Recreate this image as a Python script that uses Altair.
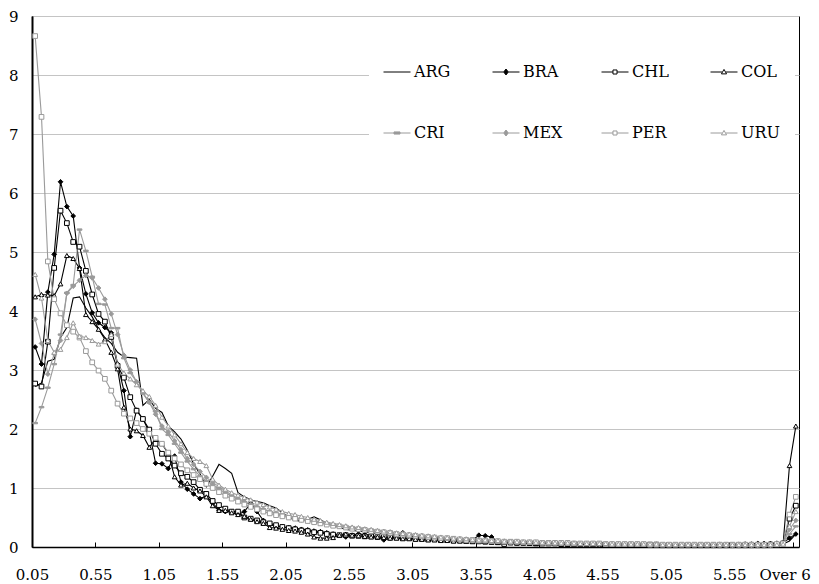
import altair as alt
import pandas as pd

# ---------------- data ----------------
categories = [f"{0.05 * (k + 1):.2f}" for k in range(120)] + ["Over 6"]
countries = ["ARG", "BRA", "CHL", "COL", "CRI", "MEX", "PER", "URU"]

ARG = [2.72, 2.78, 3.15, 3.18, 3.55, 3.72, 4.22, 4.24, 4.05, 3.9,
       3.7, 3.55, 3.45, 3.3, 3.22, 3.21, 3.2, 2.4, 2.5, 2.35,
       2.28, 2.05, 1.95, 1.83, 1.64, 1.41, 1.24, 1.02, 1.2, 1.4,
       1.33, 1.25, 0.92, 0.85, 0.8, 0.77, 0.75, 0.7, 0.66, 0.58,
       0.5,
       0.46, 0.43, 0.47, 0.51, 0.46, 0.4, 0.36, 0.33, 0.3, 0.28,
       0.27, 0.26, 0.24, 0.23, 0.22, 0.21, 0.2, 0.19, 0.18, 0.17,
       0.16, 0.16, 0.15, 0.14, 0.13, 0.13, 0.12, 0.11, 0.11, 0.1,
       0.1, 0.09, 0.09, 0.09, 0.08, 0.08, 0.08, 0.07, 0.07, 0.07,
       0.07, 0.06, 0.06, 0.06, 0.06, 0.06, 0.05, 0.05, 0.05, 0.05,
       0.05, 0.05, 0.05, 0.04, 0.04, 0.04, 0.04, 0.04, 0.04, 0.04,
       0.04, 0.04, 0.03, 0.03, 0.04, 0.03, 0.03, 0.03, 0.03, 0.03,
       0.03, 0.03, 0.03, 0.03, 0.03, 0.03, 0.04, 0.05,
       0.1, 0.22]

BRA = [3.39, 3.1, 4.32, 4.96, 6.19, 5.77, 5.61, 4.73, 4.29, 3.97,
       3.8, 3.72, 3.63, 3.1, 2.65, 1.87, 2.32, 2.17, 1.95, 1.42,
       1.41, 1.33, 1.54, 1.1, 0.98, 0.9, 0.82, 0.86, 0.75, 0.62,
       0.6, 0.6, 0.55, 0.6, 0.74, 0.6, 0.45, 0.38, 0.35, 0.34,
       0.33,
       0.32, 0.3, 0.29, 0.27, 0.26, 0.24, 0.22, 0.2, 0.17, 0.2,
       0.22, 0.21, 0.2, 0.16, 0.12, 0.15, 0.18, 0.24, 0.19, 0.17,
       0.16, 0.15, 0.14, 0.13, 0.12, 0.12, 0.11, 0.11, 0.12, 0.2,
       0.19, 0.17, 0.09, 0.08, 0.08, 0.07, 0.07, 0.07, 0.06, 0.06,
       0.06, 0.06, 0.06, 0.05, 0.06, 0.05, 0.05, 0.05, 0.05, 0.05,
       0.05, 0.05, 0.04, 0.04, 0.04, 0.04, 0.04, 0.04, 0.04, 0.04,
       0.04, 0.04, 0.04, 0.03, 0.04, 0.04, 0.04, 0.04, 0.04, 0.04,
       0.04, 0.05, 0.05, 0.06, 0.06, 0.06, 0.06, 0.07,
       0.15, 0.22]

CHL = [2.77, 2.72, 3.48, 4.73, 5.7, 5.49, 5.17, 5.09, 4.68, 4.28,
       3.95, 3.82, 3.56, 3.07, 2.87, 2.54, 2.31, 2.17, 1.99, 1.75,
       1.58, 1.5, 1.38, 1.25, 1.19, 1.1, 0.97, 0.9, 0.78, 0.71,
       0.65, 0.6, 0.6, 0.5, 0.48, 0.45, 0.42, 0.4, 0.37, 0.34,
       0.32,
       0.3, 0.28, 0.27, 0.25, 0.24, 0.22, 0.21, 0.2, 0.2, 0.19,
       0.19, 0.18, 0.18, 0.17, 0.17, 0.16, 0.16, 0.15, 0.15, 0.14,
       0.14, 0.13, 0.13, 0.12, 0.12, 0.11, 0.11, 0.1, 0.1, 0.1,
       0.09, 0.09, 0.08, 0.05, 0.08, 0.07, 0.07, 0.07, 0.06, 0.06,
       0.06, 0.06, 0.05, 0.05, 0.05, 0.05, 0.05, 0.05, 0.05, 0.04,
       0.04, 0.04, 0.04, 0.04, 0.04, 0.04, 0.04, 0.04, 0.03, 0.03,
       0.03, 0.03, 0.03, 0.03, 0.03, 0.03, 0.03, 0.03, 0.03, 0.03,
       0.03, 0.03, 0.03, 0.03, 0.03, 0.04, 0.04, 0.06,
       0.48, 0.7]

COL = [4.24, 4.28, 4.27, 4.26, 4.46, 4.94, 4.89, 4.72, 3.94, 3.82,
       3.69, 3.52, 3.3, 3.02, 2.37, 2.0, 1.97, 1.89, 1.69, 1.83,
       1.75, 1.58, 1.19, 1.05, 1.08, 1.0, 0.95, 0.85, 0.7, 0.62,
       0.62, 0.58, 0.55, 0.52, 0.47, 0.43, 0.4, 0.33, 0.32, 0.3,
       0.28,
       0.27, 0.25, 0.22, 0.17, 0.15, 0.15, 0.16, 0.2, 0.22, 0.2,
       0.19, 0.18, 0.17, 0.17, 0.16, 0.15, 0.15, 0.14, 0.14, 0.13,
       0.13, 0.12, 0.12, 0.11, 0.11, 0.1, 0.1, 0.1, 0.09, 0.09,
       0.09, 0.08, 0.08, 0.08, 0.07, 0.07, 0.07, 0.06, 0.06, 0.06,
       0.06, 0.06, 0.05, 0.05, 0.05, 0.05, 0.05, 0.05, 0.05, 0.05,
       0.05, 0.04, 0.04, 0.04, 0.04, 0.04, 0.04, 0.04, 0.04, 0.04,
       0.04, 0.04, 0.04, 0.04, 0.04, 0.04, 0.04, 0.04, 0.04, 0.04,
       0.05, 0.05, 0.05, 0.06, 0.06, 0.06, 0.07, 0.06,
       1.38, 2.05]

CRI = [2.1, 2.37, 2.7, 3.1, 3.6, 4.31, 4.44, 5.38, 5.02, 4.58,
       4.12, 4.11, 3.71, 3.71, 3.2, 2.95, 2.8, 2.6, 2.45, 2.3,
       2.0, 1.9, 1.75, 1.6, 1.45, 1.32, 1.2, 1.12, 1.05, 0.98,
       0.92, 0.86, 0.8, 0.76, 0.72, 0.68, 0.64, 0.6, 0.57, 0.55,
       0.52,
       0.5, 0.48, 0.46, 0.44, 0.42, 0.4, 0.38, 0.36, 0.35, 0.33,
       0.32, 0.3, 0.29, 0.28, 0.26, 0.25, 0.24, 0.22, 0.21, 0.2,
       0.19, 0.18, 0.17, 0.16, 0.15, 0.14, 0.13, 0.13, 0.12, 0.11,
       0.11, 0.1, 0.1, 0.09, 0.09, 0.08, 0.08, 0.08, 0.07, 0.07,
       0.07, 0.07, 0.06, 0.06, 0.06, 0.06, 0.06, 0.05, 0.05, 0.05,
       0.05, 0.05, 0.05, 0.05, 0.04, 0.04, 0.04, 0.04, 0.04, 0.04,
       0.04, 0.04, 0.04, 0.04, 0.03, 0.03, 0.03, 0.03, 0.03, 0.03,
       0.03, 0.03, 0.03, 0.03, 0.03, 0.03, 0.03, 0.04,
       0.22, 0.35]

MEX = [3.86, 3.45, 2.93, 3.27, 3.5, 4.3, 4.42, 4.52, 4.6, 4.56,
       4.39, 4.2, 3.95, 3.6, 3.25, 3.0, 2.8, 2.62, 2.45, 2.25,
       2.05, 1.95, 1.8, 1.65, 1.5, 1.4, 1.28, 1.18, 1.1, 1.02,
       0.95, 0.88, 0.82, 0.77, 0.72, 0.68, 0.64, 0.6, 0.57, 0.54,
       0.51,
       0.49, 0.47, 0.45, 0.43, 0.41, 0.39, 0.37, 0.35, 0.34, 0.32,
       0.31, 0.3, 0.28, 0.27, 0.26, 0.25, 0.23, 0.22, 0.21, 0.2,
       0.19, 0.18, 0.17, 0.16, 0.15, 0.14, 0.14, 0.13, 0.12, 0.12,
       0.11, 0.11, 0.1, 0.1, 0.09, 0.09, 0.08, 0.08, 0.08, 0.07,
       0.07, 0.07, 0.07, 0.06, 0.06, 0.06, 0.06, 0.06, 0.05, 0.05,
       0.05, 0.05, 0.05, 0.05, 0.05, 0.04, 0.04, 0.04, 0.04, 0.04,
       0.04, 0.04, 0.04, 0.04, 0.04, 0.04, 0.03, 0.03, 0.03, 0.03,
       0.03, 0.03, 0.03, 0.03, 0.03, 0.03, 0.04, 0.05,
       0.3, 0.45]

PER = [8.66, 7.29, 4.84, 4.2, 3.96, 3.76, 3.65, 3.55, 3.32, 3.13,
       2.99, 2.85, 2.65, 2.43, 2.26, 2.18, 2.1, 2.0, 1.92, 1.85,
       1.75, 1.6, 1.5, 1.4, 1.3, 1.22, 1.15, 1.07, 1.0, 0.93,
       0.87, 0.82, 0.77, 0.72, 0.68, 0.64, 0.6, 0.57, 0.54, 0.52,
       0.5,
       0.48, 0.46, 0.44, 0.42, 0.4, 0.38, 0.36, 0.35, 0.33, 0.31,
       0.3, 0.29, 0.27, 0.26, 0.25, 0.24, 0.22, 0.21, 0.2, 0.19,
       0.18, 0.17, 0.16, 0.15, 0.15, 0.14, 0.13, 0.12, 0.12, 0.11,
       0.11, 0.1, 0.1, 0.09, 0.09, 0.09, 0.08, 0.08, 0.08, 0.07,
       0.07, 0.07, 0.07, 0.07, 0.06, 0.06, 0.06, 0.06, 0.06, 0.05,
       0.05, 0.05, 0.05, 0.05, 0.05, 0.05, 0.04, 0.04, 0.04, 0.04,
       0.04, 0.04, 0.04, 0.04, 0.04, 0.04, 0.04, 0.04, 0.04, 0.04,
       0.04, 0.04, 0.04, 0.04, 0.04, 0.04, 0.05, 0.06,
       0.55, 0.85]

URU = [4.62, 4.22, 3.5, 3.3, 3.35, 3.55, 3.8, 3.57, 3.55, 3.5,
       3.44, 3.48, 3.6, 3.1, 2.95, 2.85, 2.75, 2.65, 2.55, 2.4,
       2.2, 2.05, 1.9, 1.75, 1.6, 1.5, 1.45, 1.38, 1.15, 1.05,
       0.98, 0.92, 0.88, 0.84, 0.8, 0.76, 0.72, 0.68, 0.64, 0.6,
       0.57,
       0.55, 0.52, 0.5, 0.47, 0.45, 0.42, 0.4, 0.38, 0.36, 0.34,
       0.33, 0.31, 0.3, 0.28, 0.27, 0.26, 0.24, 0.23, 0.22, 0.21,
       0.2, 0.19, 0.18, 0.17, 0.16, 0.15, 0.14, 0.14, 0.13, 0.12,
       0.12, 0.11, 0.11, 0.1, 0.1, 0.09, 0.09, 0.09, 0.08, 0.08,
       0.08, 0.07, 0.07, 0.07, 0.07, 0.06, 0.06, 0.06, 0.06, 0.06,
       0.05, 0.05, 0.05, 0.05, 0.05, 0.05, 0.05, 0.05, 0.04, 0.04,
       0.04, 0.04, 0.04, 0.04, 0.04, 0.04, 0.04, 0.04, 0.04, 0.04,
       0.04, 0.04, 0.04, 0.04, 0.04, 0.04, 0.04, 0.05,
       0.35, 0.6]

series = {"ARG": ARG, "BRA": BRA, "CHL": CHL, "COL": COL,
          "CRI": CRI, "MEX": MEX, "PER": PER, "URU": URU}
for name, vals in series.items():
    assert len(vals) == len(categories), (name, len(vals))

rows = []
for c in countries:
    for i, v in enumerate(series[c]):
        rows.append({"country": c, "cat": categories[i], "pos": i + 0.5, "value": v})
df = pd.DataFrame(rows)

# ---------------- styles ----------------
BLACK = "#000000"
GRAY = "#9a9a9a"
WHITE = "#ffffff"
stroke_range = [BLACK, BLACK, BLACK, BLACK, GRAY, GRAY, GRAY, GRAY]
fill_range = [WHITE, BLACK, WHITE, WHITE, GRAY, GRAY, WHITE, WHITE]

DASH = "M-1,-0.3L1,-0.3L1,0.3L-1,0.3Z"
marker_shapes = ["diamond", "square", "triangle-up", DASH,
                 "diamond", "square", "triangle-up"]

LINE_ONLY = "M-1,0L1,0"
LEG_DIAMOND = "M-1,0L-0.17,0M0.17,0L1,0M0,-0.22L0.17,0L0,0.22L-0.17,0Z"
LEG_SQUARE = "M-1,0L-0.15,0M0.15,0L1,0M-0.15,-0.15L0.15,-0.15L0.15,0.15L-0.15,0.15Z"
LEG_TRI = "M-1,0L-0.15,0M0.15,0L1,0M0,-0.19L0.19,0.14L-0.19,0.14Z"
LEG_DASH = "M-1,0L-0.22,0M0.22,0L1,0M-0.22,-0.08L0.22,-0.08L0.22,0.08L-0.22,0.08Z"
legend_shapes = [LINE_ONLY, LEG_DIAMOND, LEG_SQUARE, LEG_TRI,
                 LEG_DASH, LEG_DIAMOND, LEG_SQUARE, LEG_TRI]

tick_values = list(range(0, 121, 10))
label_array = "[" + ",".join("'" + categories[v] + "'" for v in tick_values) + "]"
label_expr = label_array + "[round(datum.value / 10)]"

FONT = "DejaVu Serif"
AXIS_FS = 15
W, H = 767, 531

xscale = alt.Scale(domain=[0, 121], nice=False, zero=False)
yscale = alt.Scale(domain=[0, 9], nice=False, zero=True)

y_axis = alt.Axis(values=list(range(10)), ticks=False, grid=True,
                  gridColor="#c4c4c4", gridWidth=1, title=None,
                  labelPadding=14, labelFontSize=AXIS_FS, labelFont=FONT,
                  labelColor=BLACK, domainColor=BLACK, domainWidth=2)

lines = alt.Chart(df).mark_line(strokeWidth=1.1).encode(
    x=alt.X("pos:Q", scale=xscale,
            axis=alt.Axis(values=tick_values, labelExpr=label_expr, ticks=False,
                          grid=False, title=None, labelPadding=20,
                          labelFontSize=AXIS_FS, labelFont=FONT, labelColor=BLACK,
                          labelFlush=False, labelOverlap=False,
                          labelOffset={"condition": {"test": "datum.value == 120",
                                                     "value": -8},
                                       "value": 0},
                          domainColor=BLACK, domainWidth=1.5)),
    y=alt.Y("value:Q", scale=yscale, axis=y_axis),
    stroke=alt.Stroke("country:N",
                      scale=alt.Scale(domain=countries, range=stroke_range),
                      legend=None),
    detail="country:N",
    order="pos:Q",
)

points = alt.Chart(df).transform_filter(
    "datum.country != 'ARG'"
).mark_point(filled=True, opacity=1, size=22, strokeWidth=1).encode(
    x=alt.X("pos:Q", scale=xscale,
            axis=alt.Axis(orient="bottom", offset=-5, values=tick_values,
                          labels=False, domain=False, ticks=True, tickSize=5,
                          tickColor=BLACK, tickWidth=1, grid=False, title=None)),
    y=alt.Y("value:Q", scale=yscale, axis=y_axis),
    shape=alt.Shape("country:N",
                    scale=alt.Scale(domain=countries[1:], range=marker_shapes),
                    legend=None),
    fill=alt.Fill("country:N",
                  scale=alt.Scale(domain=countries[1:], range=fill_range[1:]),
                  legend=None),
    stroke=alt.Stroke("country:N",
                      scale=alt.Scale(domain=countries[1:], range=stroke_range[1:]),
                      legend=None),
)

leg = alt.Legend(title=None, orient="none", legendX=337, legendY=28,
                 direction="horizontal", columns=4, fillColor=WHITE,
                 padding=14, labelFont=FONT, labelFontSize=16,
                 labelColor=BLACK, labelOffset=3, symbolSize=729,
                 symbolStrokeWidth=1, gridAlign="all", columnPadding=36,
                 rowPadding=39)

legend_layer = alt.Chart(df).transform_filter("false").mark_point(
    filled=True, opacity=1, strokeWidth=1
).encode(
    shape=alt.Shape("country:N",
                    scale=alt.Scale(domain=countries, range=legend_shapes),
                    legend=leg),
    fill=alt.Fill("country:N",
                  scale=alt.Scale(domain=countries, range=fill_range),
                  legend=leg),
    stroke=alt.Stroke("country:N",
                      scale=alt.Scale(domain=countries, range=stroke_range),
                      legend=leg),
)

chart = alt.layer(lines, points, legend_layer).resolve_scale(
    shape="independent", fill="independent", stroke="independent"
).resolve_axis(
    x="independent"
).properties(
    width=W, height=H,
    autosize=alt.AutoSizeParams(type="none"),
    padding={"left": 24, "top": 8, "right": 12, "bottom": 37},
).configure(
    background=WHITE, font=FONT
).configure_axis(
    labelFont=FONT
).configure_legend(
    labelFont=FONT
).configure_view(
    stroke=BLACK, strokeWidth=1
)

chart.save("out.html", embed_options={"renderer": "svg", "actions": False})
